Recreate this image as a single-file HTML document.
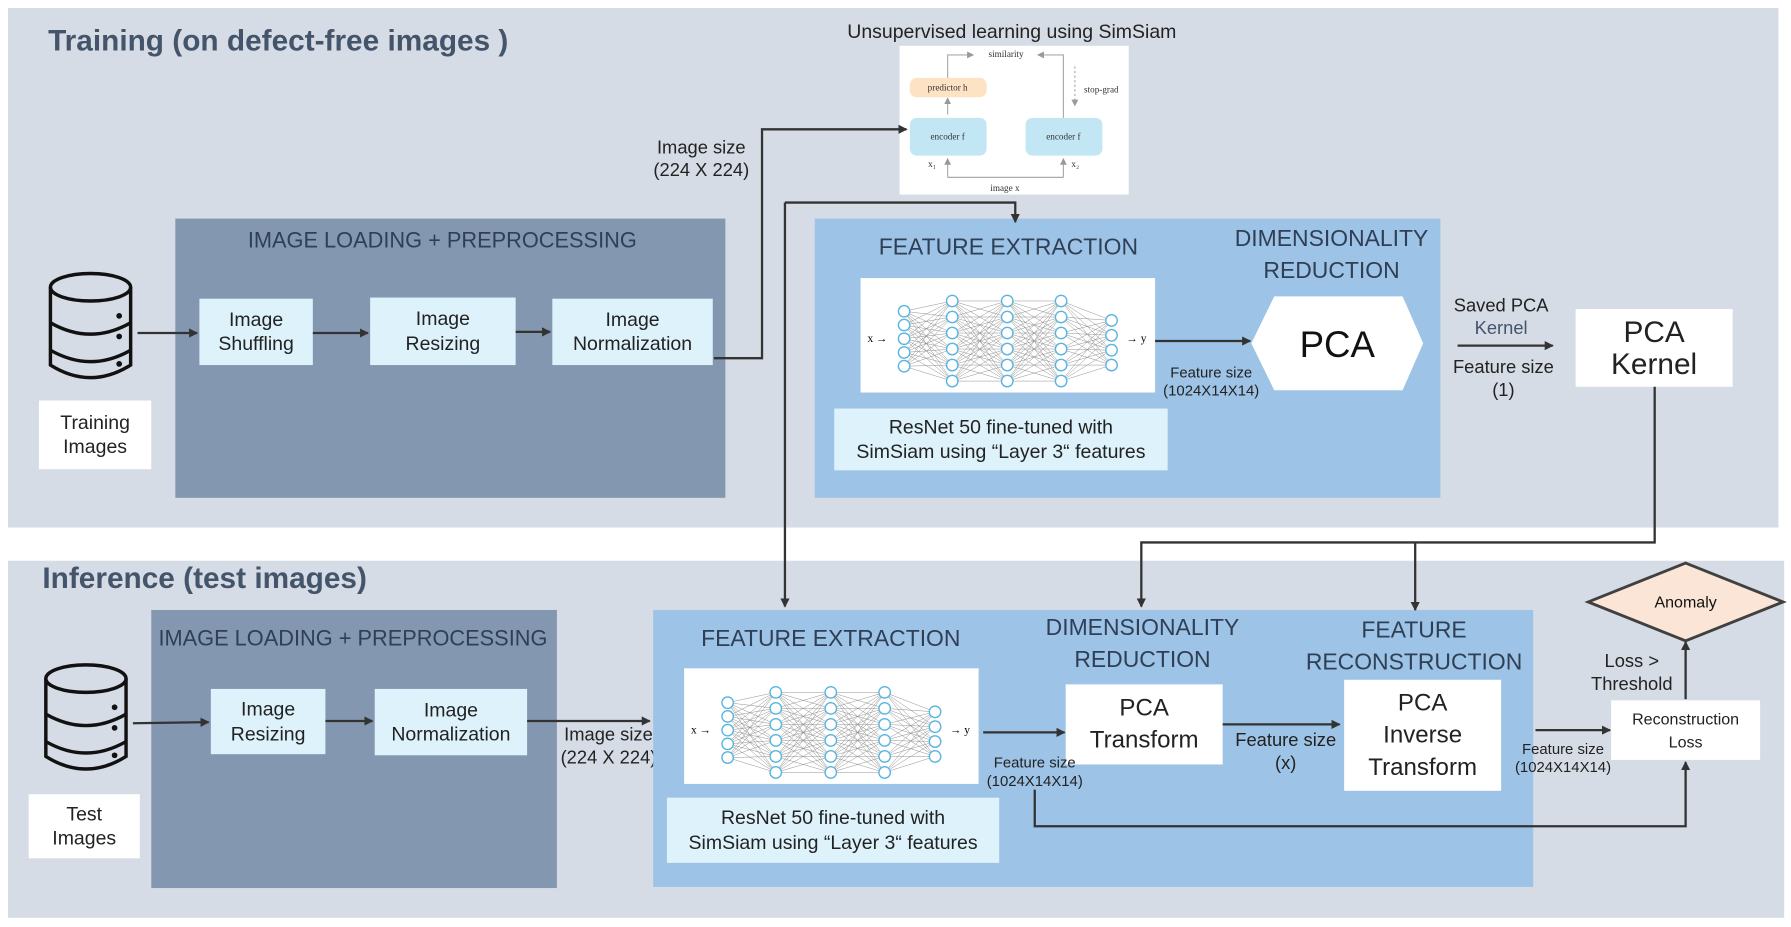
<!DOCTYPE html>
<html><head><meta charset="utf-8">
<style>
html,body{margin:0;padding:0;background:#fff;}
body{width:1791px;height:927px;overflow:hidden;position:relative;}
#c{position:absolute;left:0;top:0;width:1563px;height:810px;transform-origin:0 0;transform:scale(1.1459,1.1444);font-family:"Liberation Sans",sans-serif;}
.a{position:absolute;box-sizing:border-box;}
.t{position:absolute;white-space:nowrap;transform:translate(-50%,-50%);text-align:center;line-height:1.25;}
.box{position:absolute;box-sizing:border-box;display:flex;align-items:center;justify-content:center;text-align:center;line-height:1.25;color:#222;}
.lb{background:#ddf2fb;}
.wh{background:#fff;}
</style></head><body>
<div id="c">
<div class="a" style="left:7px;top:7px;width:1545px;height:454px;background:#d6dce5"></div>
<div class="a" style="left:7px;top:490px;width:1550px;height:312px;background:#d6dce5"></div>

<div class="a" style="left:42px;top:20px;font-size:26px;font-weight:bold;color:#44546a">Training (on defect-free images )</div>
<div class="a" style="left:37px;top:490px;font-size:26px;font-weight:bold;color:#44546a">Inference (test images)</div>

<!-- training preprocessing -->
<div class="a" style="left:153px;top:191px;width:480px;height:244px;background:#8497b0"></div>
<div class="t" style="left:386px;top:211px;font-size:19px;color:#2f3f55">IMAGE LOADING + PREPROCESSING</div>
<div class="box lb" style="left:174px;top:261px;width:99px;height:58px;font-size:17px">Image<br>Shuffling</div>
<div class="box lb" style="left:323px;top:260px;width:127px;height:59px;font-size:17px">Image<br>Resizing</div>
<div class="box lb" style="left:482px;top:261px;width:140px;height:58px;font-size:17px">Image<br>Normalization</div>
<div class="box wh" style="left:34px;top:350px;width:98px;height:60px;font-size:17px">Training<br>Images</div>

<!-- simsiam -->
<div class="t" style="left:883px;top:28px;font-size:17px;color:#222">Unsupervised learning using SimSiam</div>
<div class="a" style="left:785px;top:40px;width:200px;height:130px;background:#fff"></div>
<div class="t" style="left:612px;top:140px;font-size:16px;color:#222">Image size<br>(224 X 224)</div>

<!-- training feature -->
<div class="a" style="left:711px;top:191px;width:546px;height:244px;background:#9dc3e6"></div>
<div class="t" style="left:880px;top:217px;font-size:20px;color:#2f3f55">FEATURE EXTRACTION</div>
<div class="t" style="left:1162px;top:223px;font-size:20px;color:#2f3f55;line-height:28px">DIMENSIONALITY<br>REDUCTION</div>
<div class="a" style="left:751px;top:243px;width:257px;height:100px;background:#fff"></div>
<div class="box lb" style="left:728px;top:357px;width:291px;height:54px;font-size:17px">ResNet 50 fine-tuned with<br>SimSiam using “Layer 3“ features</div>
<div class="t" style="left:1057px;top:334px;font-size:13px;color:#222">Feature size<br>(1024X14X14)</div>
<div class="t" style="left:1310px;top:278px;font-size:16px;color:#222;line-height:20px">Saved PCA<br><span style="color:#44546a">Kernel</span></div>
<div class="t" style="left:1312px;top:332px;font-size:16px;color:#222;line-height:20px">Feature size<br>(1)</div>
<div class="box wh" style="left:1375px;top:270px;width:137px;height:68px;font-size:26px;line-height:28px">PCA<br>Kernel</div>

<!-- inference preprocessing -->
<div class="a" style="left:132px;top:533px;width:354px;height:243px;background:#8497b0"></div>
<div class="t" style="left:308px;top:559px;font-size:19px;color:#2f3f55">IMAGE LOADING + PREPROCESSING</div>
<div class="box lb" style="left:184px;top:602px;width:100px;height:57px;font-size:17px">Image<br>Resizing</div>
<div class="box lb" style="left:327px;top:602px;width:133px;height:58px;font-size:17px">Image<br>Normalization</div>
<div class="box wh" style="left:25px;top:694px;width:97px;height:56px;font-size:17px">Test<br>Images</div>
<div class="t" style="left:531px;top:653px;font-size:16px;color:#222">Image size<br>(224 X 224)</div>

<!-- inference feature -->
<div class="a" style="left:570px;top:533px;width:768px;height:242px;background:#9dc3e6"></div>
<div class="t" style="left:725px;top:559px;font-size:20px;color:#2f3f55">FEATURE EXTRACTION</div>
<div class="t" style="left:997px;top:563px;font-size:20px;color:#2f3f55;line-height:28px">DIMENSIONALITY<br>REDUCTION</div>
<div class="t" style="left:1234px;top:565px;font-size:20px;color:#2f3f55;line-height:28px">FEATURE<br>RECONSTRUCTION</div>
<div class="a" style="left:597px;top:584px;width:257px;height:101px;background:#fff"></div>
<div class="box lb" style="left:582px;top:697px;width:290px;height:57px;font-size:17px">ResNet 50 fine-tuned with<br>SimSiam using “Layer 3“ features</div>
<div class="box wh" style="left:930px;top:598px;width:137px;height:70px;font-size:21px;line-height:28px">PCA<br>Transform</div>
<div class="box wh" style="left:1173px;top:594px;width:137px;height:97px;font-size:21px;line-height:28px">PCA<br>Inverse<br>Transform</div>
<div class="box wh" style="left:1406px;top:612px;width:130px;height:52px;font-size:14px;line-height:20px">Reconstruction<br>Loss</div>
<div class="t" style="left:903px;top:675px;font-size:13px;color:#222">Feature size<br>(1024X14X14)</div>
<div class="t" style="left:1122px;top:658px;font-size:16px;color:#222">Feature size<br>(x)</div>
<div class="t" style="left:1364px;top:663px;font-size:13px;color:#222">Feature size<br>(1024X14X14)</div>
<div class="t" style="left:1424px;top:589px;font-size:16px;color:#222;line-height:20px">Loss &gt;<br>Threshold</div>

<svg class="a" style="left:0;top:0" width="1563" height="810" viewBox="0 0 1563 810">
<defs>
<marker id="ar" markerWidth="8" markerHeight="8" refX="7" refY="4" orient="auto" markerUnits="userSpaceOnUse"><path d="M0,0 L8,4 L0,8 z" fill="#333"/></marker>
<marker id="ag" markerWidth="6" markerHeight="6" refX="5" refY="3" orient="auto" markerUnits="userSpaceOnUse"><path d="M0,0 L6,3 L0,6 z" fill="#999"/></marker>
<symbol id="net" viewBox="0 0 257 100">
<g stroke="#999" stroke-width="0.35">
<g id="c1">
</g>
</g>
</symbol>
<g id="db">
<ellipse cx="37" cy="15" rx="35" ry="12" fill="none" stroke="#111" stroke-width="3"/>
<path d="M2,15 V83 Q37,105 72,83 V15" fill="none" stroke="#111" stroke-width="3"/>
<path d="M2,46 Q37,66 72,46 M2,70 Q37,90 72,70" fill="none" stroke="#111" stroke-width="3"/>
<circle cx="62" cy="40" r="2.5" fill="#111"/><circle cx="62" cy="58" r="2.5" fill="#111"/><circle cx="62" cy="82" r="2.5" fill="#111"/>
</g>
</defs>
<use href="#db" x="42" y="236"/>
<use href="#db" x="38" y="578"/>

<!-- hexagon -->
<polygon points="1112,259 1224,259 1242,300 1224,341 1112,341 1092,300" fill="#fff"/>
<text x="1167" y="312" font-size="32" text-anchor="middle" font-family="Liberation Sans" fill="#111">PCA</text>

<!-- diamond -->
<polygon points="1471,492 1556,526 1471,560 1386,526" fill="#fbe5d6" stroke="#404040" stroke-width="2.5"/>
<text x="1471" y="531" font-size="14" text-anchor="middle" font-family="Liberation Sans" fill="#111">Anomaly</text>

<!-- simsiam drawing -->
<g font-family="Liberation Serif" font-size="8" fill="#333">
<rect x="794" y="68" width="67" height="17" rx="6" fill="#fde2c4"/>
<text x="827" y="79" text-anchor="middle">predictor h</text>
<rect x="794" y="103" width="67" height="33" rx="6" fill="#c3e6f4"/>
<text x="827" y="122" text-anchor="middle">encoder f</text>
<rect x="895" y="103" width="67" height="33" rx="6" fill="#c3e6f4"/>
<text x="928" y="122" text-anchor="middle">encoder f</text>
<text x="878" y="50" text-anchor="middle">similarity</text>
<text x="946" y="81">stop-grad</text>
<text x="877" y="167" text-anchor="middle">image x</text>
<text x="810" y="146">x₁</text><text x="935" y="146">x₂</text>
<g fill="none" stroke="#aaa" stroke-width="1">
<path d="M827,68 V48 H849" marker-end="url(#ag)"/>
<path d="M928,103 V48 H906" marker-end="url(#ag)"/>
<path d="M827,100 V86" marker-end="url(#ag)"/>
<path d="M827,155 H928" /><path d="M827,155 V139" marker-end="url(#ag)"/><path d="M928,155 V139" marker-end="url(#ag)"/>
<path d="M938,58 V92" stroke-dasharray="2,2" marker-end="url(#ag)"/>
</g>
</g>

<!-- connectors -->
<g fill="none" stroke="#333" stroke-width="2">
<path d="M120,291 H172" marker-end="url(#ar)"/>
<path d="M273,291 H321" marker-end="url(#ar)"/>
<path d="M450,290 H480" marker-end="url(#ar)"/>
<path d="M623,313 H665 V113 H791" marker-end="url(#ar)"/>
<path d="M685,177 H886 V194" marker-end="url(#ar)"/>
<path d="M685,177 V530" marker-end="url(#ar)"/>
<path d="M1008,298 H1091" marker-end="url(#ar)"/>
<path d="M1272,302 H1355" marker-end="url(#ar)"/>
<path d="M1444,338 V474 H996 V530" marker-end="url(#ar)"/>
<path d="M1235,474 V533" marker-end="url(#ar)"/>
<path d="M116,632 L182,631" marker-end="url(#ar)"/>
<path d="M284,630 H325" marker-end="url(#ar)"/>
<path d="M460,630 H567" marker-end="url(#ar)"/>
<path d="M858,640 H929" marker-end="url(#ar)"/>
<path d="M1067,633 H1169" marker-end="url(#ar)"/>
<path d="M1340,638 H1405" marker-end="url(#ar)"/>
<path d="M1471,611 V561" marker-end="url(#ar)"/>
<path d="M903,690 V722 H1471 V666" marker-end="url(#ar)"/>
</g>

<g id="nets"></g>
</svg>
</div>
<script>
(function(){
 var ns="http://www.w3.org/2000/svg";
 var g=document.getElementById("nets");
 function net(ox,oy){
  var cols=[[38,[29,41,53,65,77]],[80,[20,34,48,62,76,90]],[128,[20,34,48,62,76,90]],[175,[20,34,48,62,76,90]],[219,[37,50,63,76]]];
  var s="";
  for(var i=0;i<cols.length-1;i++){
   var a=cols[i],b=cols[i+1];
   a[1].forEach(function(y1){b[1].forEach(function(y2){
     s+="M"+(ox+a[0])+","+(oy+y1)+"L"+(ox+b[0])+","+(oy+y2);
   });});
  }
  var p=document.createElementNS(ns,"path");
  p.setAttribute("d",s);p.setAttribute("stroke","#888");p.setAttribute("stroke-width","0.4");p.setAttribute("fill","none");
  g.appendChild(p);
  cols.forEach(function(c){c[1].forEach(function(y){
   var e=document.createElementNS(ns,"circle");
   e.setAttribute("cx",ox+c[0]);e.setAttribute("cy",oy+y);e.setAttribute("r","5");
   e.setAttribute("fill","#fff");e.setAttribute("stroke","#5ab4e0");e.setAttribute("stroke-width","1.2");
   g.appendChild(e);
  });});
  var t1=document.createElementNS(ns,"text");t1.setAttribute("x",ox+6);t1.setAttribute("y",oy+56);
  t1.setAttribute("font-size","10");t1.setAttribute("font-family","Liberation Serif");t1.textContent="x →";g.appendChild(t1);
  var t2=document.createElementNS(ns,"text");t2.setAttribute("x",ox+232);t2.setAttribute("y",oy+56);
  t2.setAttribute("font-size","10");t2.setAttribute("font-family","Liberation Serif");t2.textContent="→ y";g.appendChild(t2);
 }
 net(751,243);net(597,585);
})();
</script>
</body></html>
